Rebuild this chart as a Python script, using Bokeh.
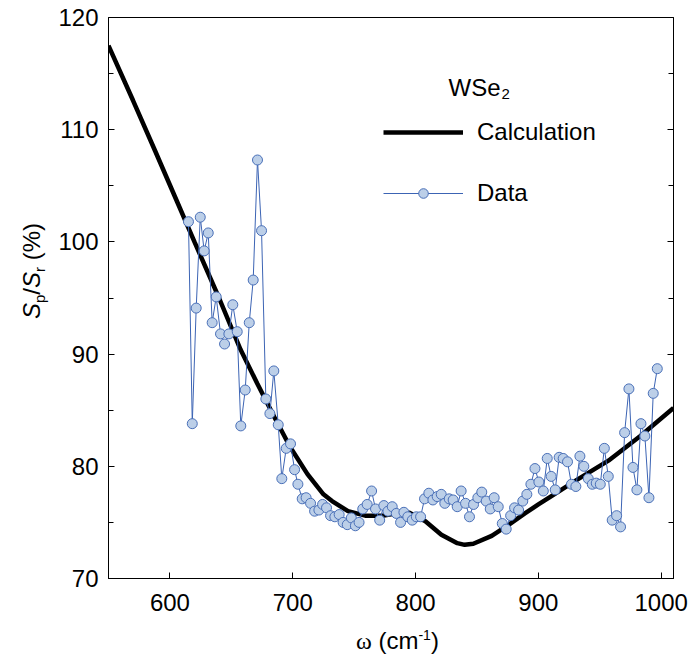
import numpy as np
from bokeh.plotting import figure
from bokeh.layouts import row, column
from bokeh.models import (Range1d, FixedTicker, LinearAxis, Label, Legend, LegendItem,
                          CustomJSTickFormatter, Div)
from bokeh.embed import file_html
from bokeh.resources import INLINE

# ---- data ----
calc_x = [550, 570, 588, 605, 620, 640, 657.5, 671, 685, 698, 712, 725, 732, 745, 759,
          773, 787, 795, 808, 821, 834, 840, 847, 862, 876, 889, 900, 910, 930, 957, 983, 1010]
calc_y = [117.5, 112.6, 108.1, 103.8, 100.0, 95.0, 90.4, 87.4, 84.4, 81.7, 79.3, 77.5, 76.9, 76.0, 75.6,
          75.6, 75.85, 75.85, 75.1, 73.9, 73.15, 73.0, 73.1, 73.8, 74.8, 75.8, 76.6, 77.3, 78.7, 80.5, 82.7, 85.2]

data_x = [615.1, 618.2, 621.4, 624.7, 627.9, 631.2, 634.4, 637.7, 641.2, 644.5,
          648.0, 651.2, 654.8, 657.7, 661.3, 664.6, 667.8, 671.3, 674.6, 678.1,
          681.4, 684.6, 688.2, 691.1, 694.7, 698.2, 701.5, 704.2, 707.7, 710.9,
          714.5, 717.8, 721.3, 724.3, 727.5, 730.8, 734.3, 737.8, 741.0, 744.4,
          747.7, 751.0, 754.0, 757.0, 760.6, 764.2, 767.4, 770.8, 774.2, 777.5,
          781.0, 784.3, 787.8, 790.5, 793.7, 797.3, 800.6, 804.1, 807.3, 810.8,
          814.1, 817.6, 820.9, 823.8, 827.4, 830.6, 833.9, 837.1, 840.7, 843.9,
          847.2, 850.7, 853.9, 857.5, 860.8, 864.0, 867.3, 870.6, 873.8, 877.4,
          880.6, 883.9, 887.3, 890.6, 893.9, 897.2, 900.4, 904.0, 907.2, 910.4,
          913.7, 916.9, 920.2, 923.7, 926.9, 930.5, 933.8, 937.0, 940.6, 943.9,
          947.1, 950.4, 953.7, 956.9, 960.1, 963.7, 966.9, 970.2, 973.7, 977.0,
          980.2, 983.5, 986.7, 990.0, 993.5, 996.8]
data_y = [101.8, 83.8, 94.1, 102.2, 99.2, 100.8, 92.8, 95.1, 91.8, 90.9,
          91.8, 94.4, 92.0, 83.6, 86.8, 92.8, 96.6, 107.3, 101.0, 86.0,
          84.7, 88.5, 83.7, 78.9, 81.6, 82.0, 79.7, 78.4, 77.1, 77.2,
          76.7, 76.0, 76.1, 76.6, 76.3, 75.6, 75.5, 75.7, 75.0, 74.8,
          75.4, 74.7, 75.0, 76.2, 76.6, 77.8, 76.2, 75.2, 76.5, 76.0,
          76.4, 75.8, 75.0, 75.9, 75.5, 75.2, 75.5, 75.5, 77.1, 77.6,
          77.0, 77.3, 77.5, 76.7, 77.1, 77.0, 76.4, 77.8, 76.7, 75.5,
          76.6, 77.2, 77.7, 76.9, 76.2, 77.2, 76.4, 74.9, 74.4, 75.6,
          76.3, 76.1, 76.9, 77.5, 78.4, 79.8, 78.6, 77.8, 80.7, 79.1,
          77.9, 80.8, 80.7, 80.4, 78.4, 78.2, 80.9, 80.0, 78.9, 78.4,
          78.5, 78.4, 81.6, 79.1, 75.2, 75.6, 74.6, 83.0, 86.9, 79.9,
          77.9, 83.8, 82.7, 77.2, 86.5, 88.7]

x_ticks = [600, 700, 800, 900, 1000]
y_ticks = [70, 80, 90, 100, 110, 120]
y_minor = [75, 85, 95, 105, 115]

# ---- layout (canvas pixels) ----
W, H = 691, 661
YLAB_W = 50          # width of the y-label strip
XLAB_H = 37          # height of the x-label strip
FIG_W, FIG_H = W - YLAB_W, H - XLAB_H
FL, FR, FT, FB = 108, 673, 17, 578   # frame edges in page pixels
X0, X1, Y0, Y1 = 550, 1010, 70, 120

def fx(px):
    return X0 + (px - FL) * (X1 - X0) / (FR - FL)

def fy(py):
    return Y1 - (py - FT) * (Y1 - Y0) / (FB - FT)

FONT = "Liberation Sans"

p = figure(width=FIG_W, height=FIG_H, output_backend="svg", toolbar_location=None,
           x_range=Range1d(X0, X1), y_range=Range1d(Y0, Y1),
           min_border_left=FL - YLAB_W, min_border_right=W - FR,
           min_border_top=FT, min_border_bottom=FIG_H - FB)
p.grid.visible = False
p.outline_line_color = "black"
p.outline_line_alpha = 1
p.outline_line_width = 1
p.background_fill_color = "white"
p.border_fill_color = "white"

xa = p.xaxis[0]
xa.ticker = FixedTicker(ticks=x_ticks)
xa.major_tick_in = 6
xa.major_tick_out = 0
xa.minor_tick_line_color = None
xa.major_label_text_font = FONT
xa.major_label_text_font_size = "24px"
xa.major_label_text_color = "black"
xa.major_label_standoff = 15
xa.axis_line_color = "black"
xa.major_tick_line_color = "black"

ya = p.yaxis[0]
ya.ticker = FixedTicker(ticks=y_ticks, minor_ticks=y_minor)
ya.major_tick_in = 6
ya.major_tick_out = 0
ya.minor_tick_in = 5
ya.minor_tick_out = 0
ya.major_label_text_font = FONT
ya.major_label_text_font_size = "24px"
ya.major_label_text_color = "black"
ya.major_label_standoff = 10
ya.axis_line_color = "black"
ya.major_tick_line_color = "black"
ya.minor_tick_line_color = "black"

ra = LinearAxis(ticker=FixedTicker(ticks=y_ticks, minor_ticks=y_minor),
                formatter=CustomJSTickFormatter(code="return ''"))
ra.major_tick_in = 6
ra.major_tick_out = 0
ra.minor_tick_in = 5
ra.minor_tick_out = 0
ra.major_label_standoff = 0
ra.axis_line_color = "black"
ra.major_tick_line_color = "black"
ra.minor_tick_line_color = "black"
p.add_layout(ra, "right")

calc_r = p.line(calc_x, calc_y, line_color="black", line_width=4.5)
data_line = p.line(data_x, data_y, line_color="#3c64b4", line_width=1)
data_pts = p.scatter(data_x, data_y, size=10, fill_color="#bccfe8",
                     line_color="#4a70b8", line_width=1)

legend = Legend(items=[LegendItem(label="Calculation", renderers=[calc_r]),
                       LegendItem(label="Data", renderers=[data_line, data_pts])],
                location=(275, 371), glyph_width=80, glyph_height=24, label_height=24,
                label_standoff=14, spacing=33, padding=0, margin=0,
                border_line_color=None, background_fill_alpha=0,
                label_text_font=FONT, label_text_font_size="24px", label_text_color="black")
p.add_layout(legend)

def lab(px, py, text, size="24px"):
    p.add_layout(Label(x=fx(px), y=fy(py), text=text, text_font=FONT, text_font_size=size,
                       text_align="left", text_baseline="alphabetic", text_color="black"))

# legend title WSe2
lab(448, 87, "WSe")
lab(501, 93, "2", size="15px")

SUB = "font-size:15px;vertical-align:-5px;line-height:0"
SUP = "font-size:14px;vertical-align:9px;line-height:0"
BASE = "position:absolute;white-space:nowrap;font-family:'Liberation Sans';font-size:24px;line-height:24px;color:black;"

ylab = Div(width=YLAB_W, height=FIG_H, margin=0, text=(
    f'<div style="position:relative;width:{YLAB_W}px;height:{FIG_H}px;">'
    f'<div style="{BASE}left:20px;top:319px;transform:rotate(-90deg);transform-origin:0 0;">'
    f'<i>S</i><sub style="{SUB}">p</sub>/<i>S</i><sub style="{SUB}">r</sub> (%)'
    '</div></div>'))

xlab = Div(width=W, height=XLAB_H, margin=0, text=(
    f'<div style="position:relative;width:{W}px;height:{XLAB_H}px;">'
    f'<div style="{BASE}left:356px;top:5px;">'
    f'<span style="font-family:\'Liberation Serif\'">\u03c9</span> (cm<sup style="{SUP}">-1</sup>)'
    '</div></div>'))

layout = column(row(ylab, p, spacing=0), xlab, spacing=0)

open("out.html", "w").write(file_html(layout, INLINE))
